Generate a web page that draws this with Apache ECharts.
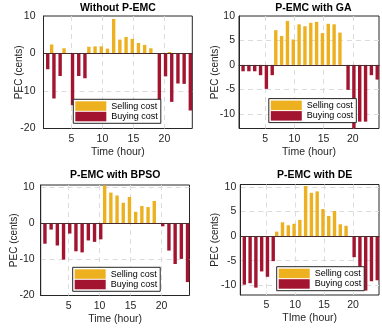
<!DOCTYPE html>
<html><head><meta charset="utf-8">
<script src="https://cdn.jsdelivr.net/npm/echarts@6/dist/echarts.min.js"></script>
<style>html,body{margin:0;padding:0;background:#fff;overflow:hidden}#c{width:382px;height:331px}</style>
</head><body><div id="c"></div>
<script>
// ---- data ----
const hours = [1,2,3,4,5,6,7,8,9,10,11,12,13,14,15,16,17,18,19,20,21,22,23,24];
const titles = ['Without P-EMC', 'P-EMC with GA', 'P-EMC with BPSO', 'P-EMC with DE'];
const xNames = ['Time (hour)', 'Time (hour)', 'Time (hour)', 'TIme (hour)'];
const yName = 'PEC (cents)';
const seriesNames = ['Selling cost', 'Buying cost'];

const sellNoEMC = [0,2.4,0,1.4,0,0,0,1.8,1.9,1.9,1.3,9.2,3.7,4.4,3.9,2.8,2.3,1.4,0,0,0.4,0,0,0];
const buyNoEMC  = [-4.2,-12,-6,0,-13.8,-6,-6.6,0,0,0,0,0,0,0,0,0,0,0,-12.5,-6.1,-12.9,-8,-8.1,-15.2];

const sellGA = [0,0,0,0,0,0,7.1,5.9,9.0,5.2,8.3,7.9,8.6,8.8,6.5,8.4,8.3,6.6,0,0,0,0,0,0];
const buyGA  = [-1.3,-1.3,-1.3,-2.1,-4.9,-2.1,0,0,0,0,0,0,0,0,0,0,0,0,-5.1,-14,-11.6,-11.6,-2.1,-3];

const sellBPSO = [0,0,0,0,0,0,0,0,0,0,10.4,8.4,7.6,5.6,7.2,3.1,4.7,4.4,6.1,0,0,0,0,0];
const buyBPSO  = [-5.7,-1.8,-6.2,-10.1,-2.9,-7.8,-8.1,-4.8,-5.2,-4.5,0,0,0,0,0,0,0,0,0,-0.9,-7.6,-11.3,-9.9,-16.3];

const sellDE = [0,0,0,0,0,0,0.9,2.8,2.2,2.5,3.3,10.2,8.8,9.1,5.5,4.1,5.1,2.4,2.1,0,0,0,0,0];
const buyDE  = [-9.9,-9.6,-10.5,-7.2,-8.3,-5.1,0,0,0,0,0,0,0,0,0,0,0,0,0,-4.3,-10.7,-11.1,-9.2,-9];

const sellAll = [sellNoEMC, sellGA, sellBPSO, sellDE];
const buyAll  = [buyNoEMC, buyGA, buyBPSO, buyDE];

// ---- layout / style ----
const FONT = '"Liberation Sans", Arial, Helvetica, sans-serif';
const C_SELL = '#EDB120', C_BUY = '#A2142F', AX = '#262626', GRID = '#dcdcdc';
const panels = [
  {left: 43.5, top: 16,    height: 112.5, yMin: -20, yMax: 10,   split: 3, lblM: 8, nameGap: 19, titleTop: 2.5,  legend: [73.3, 99.3]},
  {left: 239,  top: 16,    height: 112.5, yMin: -13, yMax: 10,   split: 5, lblM: 4, nameGap: 19, titleTop: 2.5,  legend: [268.8, 98.6]},
  {left: 40.7, top: 185,   height: 110.5, yMin: -20, yMax: 10.5, split: 3, lblM: 6, nameGap: 21, titleTop: 169.5, legend: [72.7, 267.3]},
  {left: 240.3,top: 184.5, height: 110.5, yMin: -12, yMax: 10.5, split: 4, lblM: 4, nameGap: 20, titleTop: 169.5, legend: [276.7, 266.7]}
];
const W = 148.8;

const grid = [], xAxis = [], yAxis = [], series = [], title = [], legend = [];
const splitStyle = {show: true, showMinLine: false, showMaxLine: false,
  lineStyle: {color: GRID, type: [5, 4], width: 1}};
panels.forEach((p, i) => {
  grid.push({left: p.left, top: p.top, width: W, height: p.height, show: true,
    borderColor: AX, borderWidth: 1, backgroundColor: '#fff', containLabel: false});
  xAxis.push({type: 'value', gridIndex: i, min: 0.5, max: 24.5, splitNumber: 5,
    name: xNames[i], nameLocation: 'middle', nameGap: 18, nameMoveOverlap: false,
    nameTextStyle: {fontSize: 10.5, color: AX, fontFamily: FONT},
    axisLine: {show: true, lineStyle: {color: AX, width: 1}},
    axisTick: {show: false},
    axisLabel: {fontSize: 10.5, color: AX, fontFamily: FONT, margin: 5,
      formatter: v => (Math.abs(v % 5) < 1e-9 ? String(v) : '')},
    splitLine: splitStyle
  });
  yAxis.push({type: 'value', gridIndex: i, min: p.yMin, max: p.yMax, splitNumber: p.split,
    name: yName, nameLocation: 'middle', nameGap: p.nameGap, nameRotate: 90, nameMoveOverlap: false,
    nameTextStyle: {fontSize: 10, color: AX, fontFamily: FONT},
    axisLine: {show: true, lineStyle: {color: AX, width: 1}},
    axisTick: {show: false},
    axisLabel: {fontSize: 10.5, color: AX, fontFamily: FONT, margin: p.lblM,
      formatter: v => (Math.abs(v % 5) < 1e-9 ? String(v) : '')},
    splitLine: splitStyle
  });
  series.push({type: 'bar', name: seriesNames[0], xAxisIndex: i, yAxisIndex: i,
    data: hours.map((h, k) => [h, sellAll[i][k]]), barWidth: 3.4, barGap: '-33%',
    itemStyle: {color: C_SELL}, clip: true, silent: true, animation: false});
  series.push({type: 'bar', name: seriesNames[1], xAxisIndex: i, yAxisIndex: i,
    data: hours.map((h, k) => [h, buyAll[i][k]]), barWidth: 3.4, barGap: '-33%',
    itemStyle: {color: C_BUY}, clip: true, silent: true, animation: false,
    markLine: {silent: true, symbol: 'none', label: {show: false},
      lineStyle: {color: '#4a2a2a', type: 'solid', width: 1}, data: [{yAxis: 0}], animation: false}});
  title.push({text: titles[i], left: p.left + W / 2, top: p.titleTop, textAlign: 'center', padding: 0,
    textStyle: {fontSize: 10.5, fontWeight: 'bold', color: '#000', fontFamily: FONT}});
  legend.push({data: seriesNames, orient: 'vertical', left: p.legend[0], top: p.legend[1],
    icon: 'rect', itemWidth: 31, itemHeight: 9.5, itemGap: 1, padding: [2, 3, 2, 2],
    borderColor: AX, borderWidth: 1, backgroundColor: '#fff', selectedMode: false,
    textStyle: {fontSize: 9, color: '#000', fontFamily: FONT}});
});

const chart = echarts.init(document.getElementById('c'), null, {renderer: 'canvas'});
chart.setOption({animation: false, textStyle: {fontFamily: FONT}, grid, xAxis, yAxis, series, title, legend});
</script></body></html>
